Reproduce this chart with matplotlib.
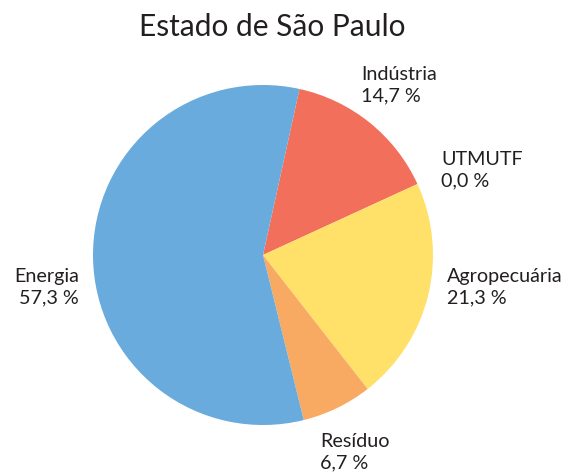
import matplotlib
matplotlib.use("Agg")
import matplotlib.pyplot as plt

# ── Data ──────────────────────────────────────────────────────────────────────
sectors = ["Indústria", "UTMUTF", "Agropecuária", "Resíduo", "Energia"]
shares = [14.7, 0.0, 21.3, 6.7, 57.3]
colors = ["#f2705b", "#8fc46b", "#ffe169", "#f9aa62", "#69abdc"]
title = "Estado de São Paulo"

plt.rcParams["font.family"] = ["Lato", "DejaVu Sans"]

W, H = 569, 475
fig = plt.figure(figsize=(W / 100, H / 100), dpi=100)
ax = fig.add_axes([0, 0, 1, 1])

cx, cy, r = 263, H - 255, 170
ax.pie(shares, colors=colors, startangle=77.6, counterclock=False,
       center=(cx, cy), radius=r, frame=True,
       wedgeprops=dict(linewidth=0))
ax.set_xlim(0, W)
ax.set_ylim(0, H)
ax.set_aspect("equal")
ax.axis("off")

# label positions (pixel coords, top-left of text block) and alignment
label_pos = {
    "Indústria": (361, 66, "left"),
    "UTMUTF": (441, 151, "left"),
    "Agropecuária": (447, 268, "left"),
    "Resíduo": (320, 433, "left"),
    "Energia": (79, 268, "right"),
}
for name, val in zip(sectors, shares):
    x, y, ha = label_pos[name]
    txt = f"{name}\n{val:.1f} %".replace(".", ",")
    ax.text(x, H - y, txt, ha=ha, va="top", fontsize=14.2,
            color="#231f20", linespacing=1.3, multialignment=ha)

ax.text(272, H - 13, title, ha="center", va="top", fontsize=21.5,
        color="#231f20")

fig.savefig("out.png", dpi=100)
